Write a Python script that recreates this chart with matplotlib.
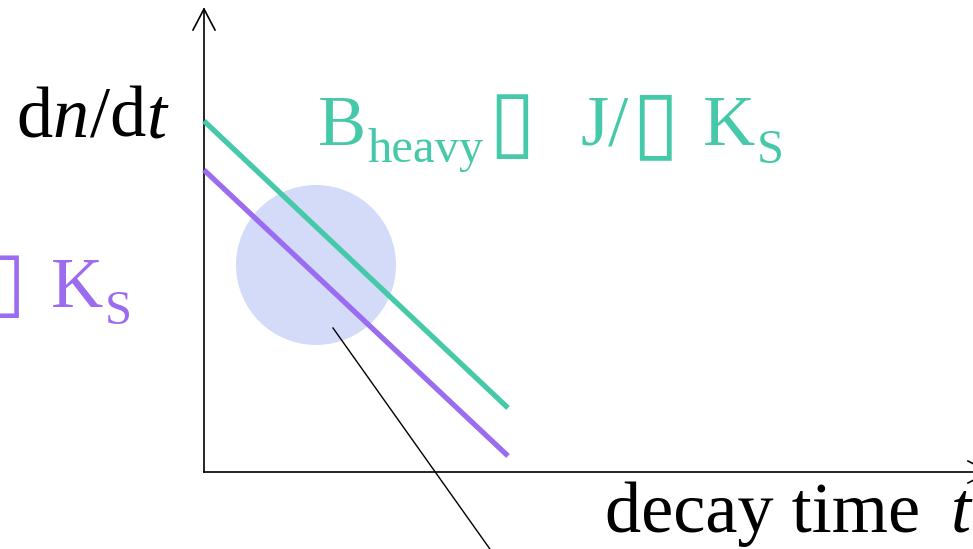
import matplotlib
matplotlib.use("Agg")
import matplotlib.pyplot as plt
from matplotlib.patches import Circle
from matplotlib.transforms import IdentityTransform
from matplotlib.textpath import TextPath
from matplotlib.font_manager import FontProperties

W, H = 973, 549

# schematic data (1 unit = 100 px, origin at the axes corner)
t_line = [0.0, 3.04]
heavy_rate = [3.51, 0.64]
light_rate = [3.02, 0.16]
blob_center = (1.12, 2.07)
blob_radius = 0.80
pointer_x = [1.29, 2.93]
pointer_y = [1.44, -0.87]

teal = '#46C9A8'
purple = '#9B6CF0'
blob = '#D3DBF9'
serif = ['Liberation Serif', 'DejaVu Serif']
box = '\u25AF'  # missing symbol glyph in the original, shown as an empty box

fig = plt.figure(figsize=(W / 100, H / 100), dpi=100)
ax = fig.add_axes([0, 0, 1, 1])
ax.set_xlim(-2.04, 7.69)
ax.set_ylim(-0.77, 4.72)
ax.axis('off')

# axes with arrow heads
ax.plot([0, 0], [0, 4.63], color='black', lw=1.2)
ax.plot([-0.11, 0, 0.11], [4.42, 4.63, 4.42], color='black', lw=1.2)
ax.plot([0, 7.85], [0, 0], color='black', lw=1.2)
ax.plot([7.64, 7.85, 7.64], [0.11, 0, -0.11], color='black', lw=1.2)

ax.add_patch(Circle(blob_center, blob_radius, facecolor=blob, edgecolor='none', zorder=1))
ax.plot(t_line, heavy_rate, color=teal, lw=3.8, solid_capstyle='butt', zorder=2)
ax.plot(t_line, light_rate, color=purple, lw=3.8, solid_capstyle='butt', zorder=2)
ax.plot(pointer_x, pointer_y, color='black', lw=1.0, zorder=3)

renderer = fig.canvas.get_renderer()


def label(x, y, s, size, color, style='normal', family=serif):
    # x, y in pixels from top-left, y is the baseline; returns right edge
    t = fig.text(x, H - y, s, transform=IdentityTransform(), fontsize=size,
                 color=color, family=family, style=style, va='baseline', ha='left')
    return t.get_window_extent(renderer).x1


# ink box of the box glyph, in em units
box_prop = FontProperties(family='DejaVu Sans')
bx0, by0, bw, bh = TextPath((0, 0), box, size=1, prop=box_prop).get_extents().bounds
by1 = by0 + bh


def sym(left, top, bottom, color):
    em = (bottom - top) / (by1 - by0)  # px per em
    fig.text(left - bx0 * em, H - (bottom + by0 * em), box,
             transform=IdentityTransform(), fontsize=em * 0.72, color=color,
             fontproperties=box_prop, va='baseline', ha='left')


big, small = 52, 35

# y label
x = label(16, 137, 'd', big, 'black')
x = label(x, 137, 'n', big, 'black', 'italic')
x = label(x + 2, 137, '/d', big, 'black')
label(x, 137, 't', big, 'black', 'italic')

# heavy decay
label(318, 145, 'B', big, teal)
label(368, 162, 'heavy', small, teal)
sym(496, 94, 159, teal)
label(581, 145, 'J/', big, teal)
sym(639, 94, 160, teal)
label(703, 145, 'K', big, teal)
label(757, 163, 'S', small, teal)

# light decay (runs off the left edge)
sym(-12, 255, 318, purple)
label(51, 307, 'K', big, purple)
label(105, 324, 'S', small, purple)

# x label
label(605, 532, 'decay time', big, 'black')
label(951, 532, 't', big, 'black', 'italic')

fig.savefig('out.png', dpi=100)
